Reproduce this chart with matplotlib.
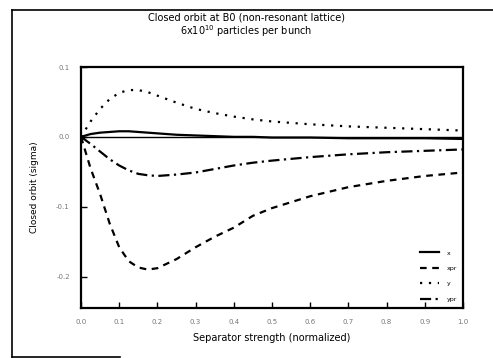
import matplotlib
matplotlib.use("Agg")
import matplotlib.pyplot as plt
from matplotlib.lines import Line2D

# separator strength (normalized)
s = [0.0, 0.025, 0.05, 0.075, 0.1, 0.125, 0.15, 0.175, 0.2, 0.25,
     0.3, 0.35, 0.4, 0.45, 0.5, 0.6, 0.7, 0.8, 0.9, 1.0]

# closed orbit (sigma)
x_orb = [0.0, 0.004, 0.006, 0.007, 0.008, 0.008, 0.007, 0.006, 0.005, 0.003,
         0.002, 0.001, 0.0, 0.0, -0.001, -0.001, -0.002, -0.002, -0.002, -0.003]
xpr_orb = [0.0, -0.045, -0.082, -0.124, -0.158, -0.178, -0.187, -0.19, -0.188, -0.175,
           -0.158, -0.143, -0.13, -0.113, -0.102, -0.085, -0.072, -0.063, -0.056, -0.051]
y_orb = [0.0, 0.022, 0.04, 0.054, 0.063, 0.067, 0.067, 0.064, 0.059, 0.049,
         0.04, 0.034, 0.029, 0.025, 0.022, 0.018, 0.015, 0.013, 0.011, 0.009]
ypr_orb = [0.0, -0.01, -0.021, -0.032, -0.041, -0.048, -0.053, -0.055, -0.056, -0.054,
           -0.051, -0.046, -0.041, -0.037, -0.034, -0.029, -0.025, -0.022, -0.02, -0.018]

xticks = [0.0, 0.1, 0.2, 0.3, 0.4, 0.5, 0.6, 0.7, 0.8, 0.9, 1.0]
yticks = [0.1, 0.0, -0.1, -0.2]

plt.rcParams["font.family"] = ["DejaVu Sans"]

fig = plt.figure(figsize=(4.93, 3.58), dpi=100)
ax = fig.add_axes([81 / 493, 1 - 308 / 358, (463 - 81) / 493, (308 - 67) / 358])

ax.axhline(0, color="black", lw=1.0)
ax.plot(s, x_orb, color="black", lw=1.6, ls="-")
ax.plot(s, xpr_orb, color="black", lw=1.6, ls=(0, (3, 2.5)))
ax.plot(s, y_orb, color="black", lw=1.6, ls=(0, (1, 3)))
ax.plot(s, ypr_orb, color="black", lw=1.6, ls=(0, (5, 2, 1, 2)))

ax.set_xlim(0, 1.0)
ax.set_ylim(-0.245, 0.1)
ax.set_xticks(xticks)
ax.set_xticklabels(["%.1f" % t for t in xticks])
ax.set_yticks(yticks)
ax.set_yticklabels(["%.1f" % t for t in yticks])
ax.tick_params(direction="in", length=4, width=1, labelsize=5, labelcolor="#777777", pad=8)
for sp in ax.spines.values():
    sp.set_linewidth(1.6)

ax.set_xlabel("Separator strength (normalized)", fontsize=7, labelpad=6)
ax.set_ylabel("Closed orbit (sigma)", fontsize=6.5, labelpad=12)

fig.text(0.5, 1 - 17 / 358, "Closed orbit at B0 (non-resonant lattice)", ha="center", va="center", fontsize=7)
fig.text(0.5, 1 - 31 / 358, "6x10$^{10}$ particles per bunch", ha="center", va="center", fontsize=7)

handles = [
    Line2D([], [], color="black", lw=1.6, ls="-"),
    Line2D([], [], color="black", lw=1.6, ls=(0, (3, 2.5))),
    Line2D([], [], color="black", lw=1.6, ls=(0, (1, 3))),
    Line2D([], [], color="black", lw=1.6, ls=(0, (5, 2, 1, 2))),
]
ax.legend(handles, ["x", "xpr", "y", "ypr"], loc="lower right", frameon=False,
          fontsize=4.5, handlelength=3.0, handletextpad=1.2, labelspacing=1.6,
          borderaxespad=0.6)

# scanned page frame
fig.add_artist(Line2D([12 / 493, 12 / 493], [1 - 10 / 358, 1 - 357 / 358], color="black", lw=1.2))
fig.add_artist(Line2D([12 / 493, 1.0], [1 - 10 / 358, 1 - 10 / 358], color="black", lw=1.2))
fig.add_artist(Line2D([12 / 493, 120 / 493], [1 - 357 / 358, 1 - 357 / 358], color="black", lw=1.2))

fig.savefig("out.png", dpi=100)
